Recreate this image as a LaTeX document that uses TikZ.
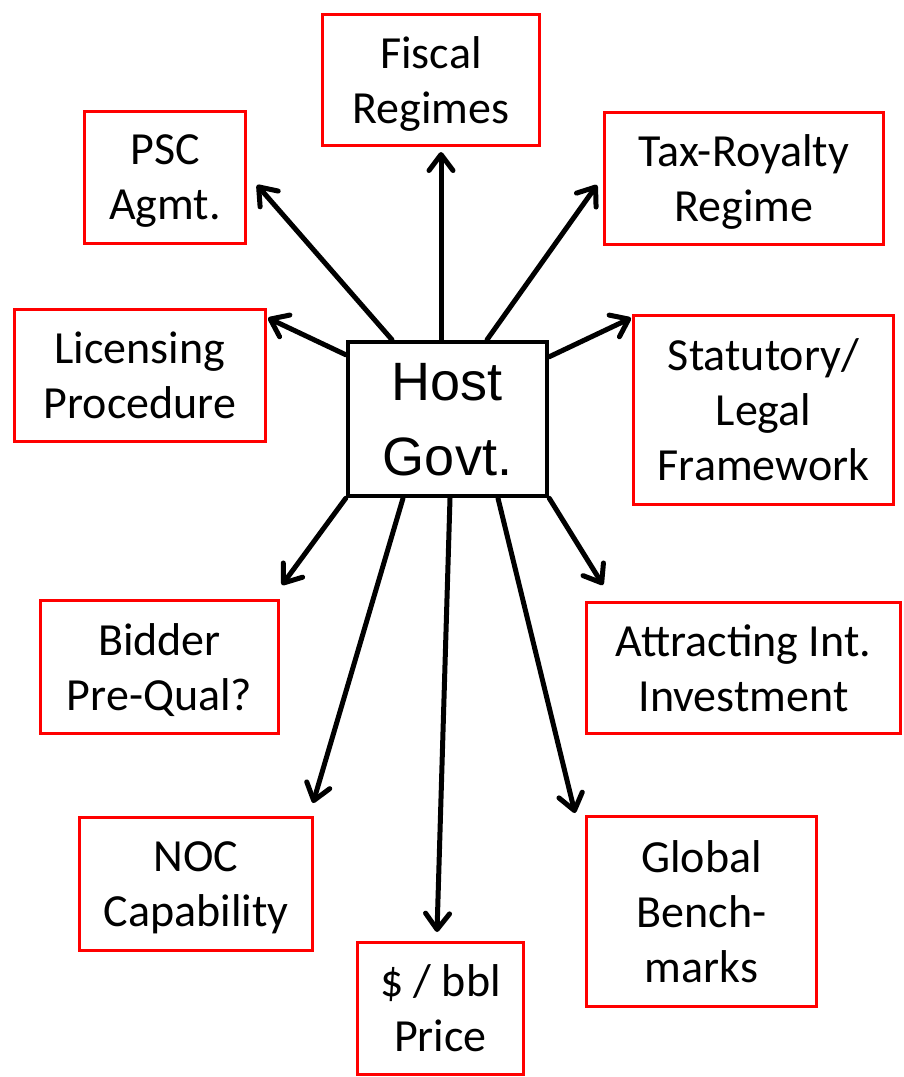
\documentclass[tikz,border=0pt]{standalone}
\usepackage{fontspec}
\setmainfont{Carlito}
\newfontfamily\govfont{Liberation Sans}
\usepackage{tikz}
\usetikzlibrary{arrows.meta, calc}

\begin{document}
\begin{tikzpicture}[x=1pt, y=-1pt,
  box/.style={draw=red, line width=3pt, align=center, inner sep=0pt,
              font=\fontsize{46}{55}\selectfont, text depth=0pt},
  gov/.style={draw, line width=4.5pt, align=center, inner sep=0pt,
              font=\govfont\fontsize{54}{75}\selectfont, text depth=-6pt},
  arr/.style={-{Straight Barb[length=16pt, width=24pt, round]}, line width=5pt, line cap=round}]

  \useasboundingbox (0,0) rectangle (903,1077);

  % centre
  \node[gov, minimum width=199pt, minimum height=154pt] (host) at (447.5,419) {Host\\Govt.};

  % upper boxes
  \node[box, minimum width=217pt, minimum height=131pt] (fiscal) at (431,80) {Fiscal\\Regimes};
  \node[box, minimum width=161pt, minimum height=132pt] (psc) at (165,177.5) {PSC\\Agmt.};
  \node[box, minimum width=279pt, minimum height=132pt] (tax) at (744,178.5) {Tax-Royalty\\Regime};
  \node[box, minimum width=251pt, minimum height=132pt] (lic) at (140,375.5) {Licensing\\Procedure};
  \node[box, minimum width=260pt, minimum height=189pt] (stat) at (763.5,410) {Statutory/\\Legal\\Framework};

  % lower boxes
  \node[box, minimum width=238pt, minimum height=133pt] (bid) at (159.5,667) {Bidder\\Pre-Qual?};
  \node[box, minimum width=314pt, minimum height=131pt] (att) at (743.5,668) {Attracting Int.\\Investment};
  \node[box, minimum width=233pt, minimum height=133pt] (noc) at (196,884) {NOC\\Capability};
  \node[box, minimum width=166pt, minimum height=132pt] (price) at (440.5,1008.5) {\$ / bbl\\Price};
  \node[box, minimum width=230pt, minimum height=190pt] (glob) at (701.5,911.5) {Global\\Bench-\\marks};

  % spokes out of the centre
  \draw[arr] ($(host.north)+(-6.5,0)$)  -- ($(fiscal.south)+(10,5)$);
  \draw[arr] ($(host.north)+(-55.5,0)$) -- ($(psc.east)+(10,7.5)$);
  \draw[arr] ($(host.north)+(39.5,0)$)  -- ($(tax.west)+(-6,6.5)$);
  \draw[arr] ($(host.north west)+(0,15)$) -- ($(lic.north east)+(1,10)$);
  \draw[arr] ($(host.north east)+(0,17)$) -- ($(stat.north west)+(-1,4)$);
  \draw[arr] (host.south west) -- ($(bid.north east)+(2,-14)$);
  \draw[arr] (host.south east) -- ($(att.north west)+(18,-16)$);
  \draw[arr] ($(host.south)+(-44.5,0)$) -- ($(noc.north east)+(-1,-13)$);
  \draw[arr] ($(host.south)+(2.5,0)$)   -- ($(price.north)+(-3.5,-9)$);
  \draw[arr] ($(host.south)+(50.5,0)$)  -- ($(glob.north west)+(-10,-2)$);
\end{tikzpicture}
\end{document}
